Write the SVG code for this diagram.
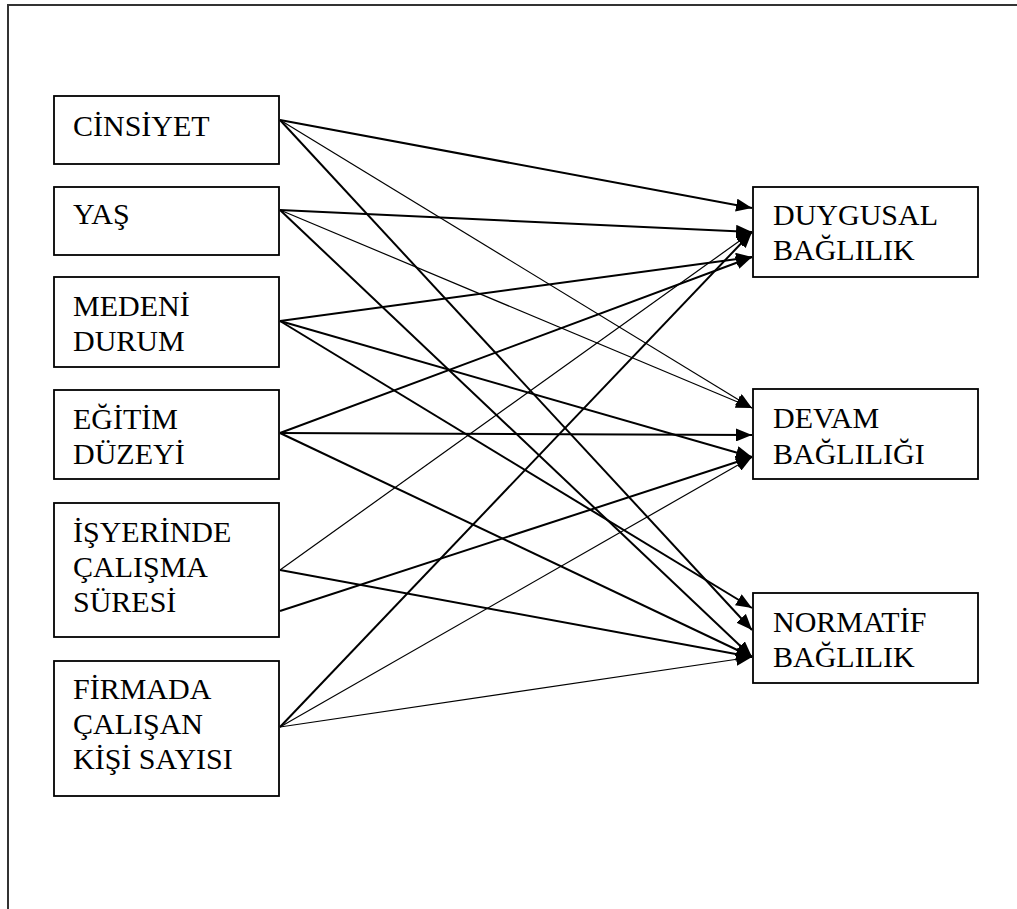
<svg xmlns="http://www.w3.org/2000/svg" width="1017" height="909" viewBox="0 0 1017 909">
<style>
  .box { fill: #fff; stroke: #000; stroke-width: 1.8; }
  .t { font-family: "Liberation Serif", "Times New Roman", serif; font-size: 30px; fill: #000; }
  .c { stroke: #000; fill: none; marker-end: url(#arr); }
  .k { stroke-width: 2; }
  .n { stroke-width: 1.2; }
  .frame { stroke: #333; stroke-width: 2; fill: none; }
</style>
<defs>
  <marker id="arr" markerUnits="userSpaceOnUse" markerWidth="17" markerHeight="13" refX="16" refY="6.5" orient="auto">
    <path d="M0,0 L16,6.5 L0,13 z" fill="#000"/>
  </marker>
</defs>
<rect x="0" y="0" width="1017" height="909" fill="#fff"/>
<path class="frame" d="M8,909 L8,5 L1017,5"/>

<g id="connectors">
  <line class="c k" x1="280" y1="120" x2="752" y2="208"/>
  <line class="c n" x1="280" y1="120" x2="752" y2="408"/>
  <line class="c k" x1="280" y1="120" x2="752" y2="630"/>
  <line class="c k" x1="280" y1="210" x2="752" y2="232"/>
  <line class="c n" x1="280" y1="210" x2="752" y2="408"/>
  <line class="c k" x1="280" y1="210" x2="752" y2="657"/>
  <line class="c k" x1="280" y1="321" x2="752" y2="257"/>
  <line class="c k" x1="280" y1="321" x2="752" y2="457"/>
  <line class="c k" x1="280" y1="321" x2="752" y2="608"/>
  <line class="c k" x1="280" y1="433" x2="752" y2="257"/>
  <line class="c k" x1="280" y1="433" x2="752" y2="435"/>
  <line class="c k" x1="280" y1="433" x2="752" y2="657"/>
  <line class="c n" x1="280" y1="570" x2="752" y2="232"/>
  <line class="c k" x1="280" y1="570" x2="752" y2="657"/>
  <line class="c k" x1="280" y1="611" x2="752" y2="457"/>
  <line class="c k" x1="280" y1="727" x2="752" y2="232"/>
  <line class="c n" x1="280" y1="727" x2="752" y2="457"/>
  <line class="c n" x1="280" y1="727" x2="752" y2="657"/>
</g>

<g id="cinsiyet">
  <rect class="box" x="54" y="96" width="225" height="68"/>
  <text class="t" x="73" y="136">CİNSİYET</text>
</g>
<g id="yas">
  <rect class="box" x="54" y="187" width="225" height="68"/>
  <text class="t" x="73" y="224">YAŞ</text>
</g>
<g id="medeni-durum">
  <rect class="box" x="54" y="277" width="225" height="90"/>
  <text class="t" x="73" y="316">MEDENİ</text>
  <text class="t" x="73" y="351">DURUM</text>
</g>
<g id="egitim-duzeyi">
  <rect class="box" x="54" y="390" width="225" height="89"/>
  <text class="t" x="73" y="429">EĞİTİM</text>
  <text class="t" x="73" y="464">DÜZEYİ</text>
</g>
<g id="isyerinde-calisma-suresi">
  <rect class="box" x="54" y="503" width="225" height="134"/>
  <text class="t" x="73" y="542">İŞYERİNDE</text>
  <text class="t" x="73" y="577">ÇALIŞMA</text>
  <text class="t" x="73" y="612">SÜRESİ</text>
</g>
<g id="firmada-calisan-kisi-sayisi">
  <rect class="box" x="54" y="661" width="225" height="135"/>
  <text class="t" x="73" y="699">FİRMADA</text>
  <text class="t" x="73" y="734">ÇALIŞAN</text>
  <text class="t" x="73" y="769">KİŞİ SAYISI</text>
</g>
<g id="duygusal-baglilik">
  <rect class="box" x="753" y="187" width="225" height="90"/>
  <text class="t" x="773" y="225">DUYGUSAL</text>
  <text class="t" x="773" y="260">BAĞLILIK</text>
</g>
<g id="devam-bagliligi">
  <rect class="box" x="753" y="389" width="225" height="90"/>
  <text class="t" x="773" y="428">DEVAM</text>
  <text class="t" x="773" y="464">BAĞLILIĞI</text>
</g>
<g id="normatif-baglilik">
  <rect class="box" x="753" y="593" width="225" height="90"/>
  <text class="t" x="773" y="632">NORMATİF</text>
  <text class="t" x="773" y="667">BAĞLILIK</text>
</g>
</svg>
